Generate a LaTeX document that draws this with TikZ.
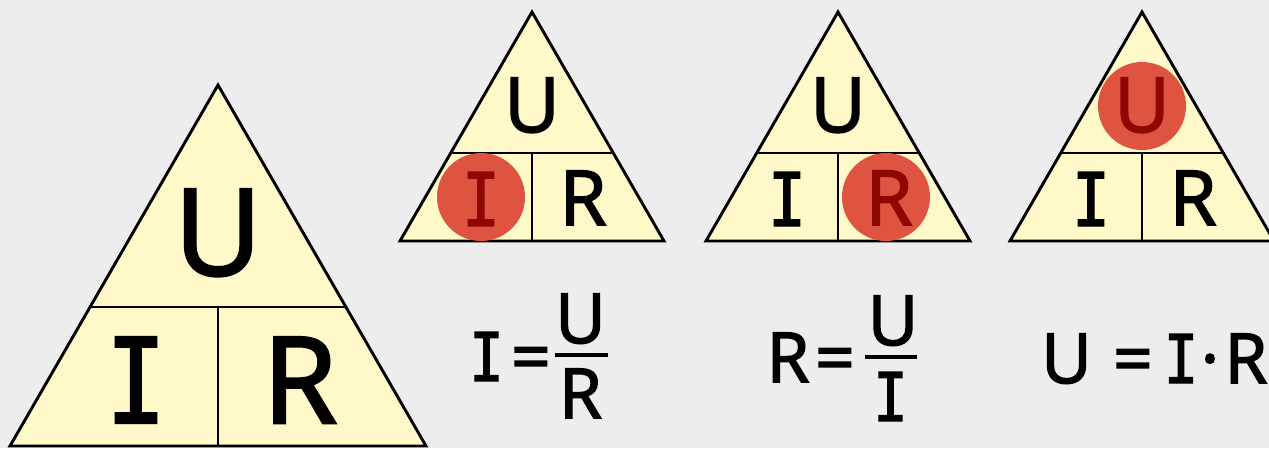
\documentclass[tikz,border=0pt]{standalone}
\usepackage{fontspec}
\newfontfamily\osans[FakeBold=2.4]{Open Sans}
\newfontfamily\dmono[FakeBold=2]{DejaVu Sans Mono}
\definecolor{bgc}{HTML}{EDEDED}
\definecolor{triy}{HTML}{FFF8C8}
\definecolor{redc}{HTML}{DF5440}
\definecolor{dred}{HTML}{8E0800}
\tikzset{
  tri/.style={draw=black, line width=2.9pt, fill=triy, line join=miter},
  sep/.style={draw=black, line width=2.9pt},
  bigs/.style={font=\osans\fontsize{120}{120}\selectfont, anchor=base, inner sep=0pt},
  bigm/.style={font=\dmono\fontsize{118}{118}\selectfont, anchor=base, inner sep=0pt, xscale=0.85},
  sms/.style={font=\osans\fontsize{76}{76}\selectfont, anchor=base, inner sep=0pt},
  smm/.style={font=\dmono\fontsize{74}{74}\selectfont, anchor=base, inner sep=0pt, xscale=0.85},
  fs/.style={font=\osans\fontsize{69}{69}\selectfont, anchor=base, inner sep=0pt},
  fm/.style={font=\dmono\fontsize{67}{67}\selectfont, anchor=base, inner sep=0pt, xscale=0.85},
  hl/.style={circle, fill=redc, minimum size=88pt, inner sep=0pt},
  fbar/.style={draw=black, line width=4pt},
}
\begin{document}
\begin{tikzpicture}[x=1pt,y=-1pt]
\useasboundingbox (0,0) rectangle (1269,448);
\fill[bgc] (0,0) rectangle (1269,448);
% big triangle
\draw[tri] (218,85) -- (426,446) -- (10,446) -- cycle;
\draw[sep] (90,307) -- (346,307);
\draw[sep] (218,307) -- (218,446);
\node[bigs] (bU) at (218,275) {U};
\node[bigm] (bI) at (136,423) {I};
\node[bigs] (bR) at (300,423) {R};
% small triangles
\foreach \ax/\nm in {532/a,838/b,1142/c}{
  \draw[tri] (\ax,12) -- (\ax+132,241) -- (\ax-132,241) -- cycle;
  \draw[sep] (\ax-81.3,153) -- (\ax+81.3,153);
  \draw[sep] (\ax,153) -- (\ax,241);
}
% triangle 1
\node[sms] (aU) at (532,132) {U};
\node[hl] (aC) at (481,197) {};
\node[smm, text=dred] (aI) at (481,226) {I};
\node[sms] (aR) at (583,225) {R};
% triangle 2
\node[sms] (bbU) at (838,132) {U};
\node[smm] (bbI) at (787,226) {I};
\node[hl] (bC) at (886,197) {};
\node[sms, text=dred] (bbR) at (889,225) {R};
% triangle 3
\node[hl] (cC) at (1142,106) {};
\node[sms, text=dred] (cU) at (1142,132) {U};
\node[smm] (cI) at (1091,226) {I};
\node[sms] (cR) at (1193,225) {R};
% formula 1
\node[fm] (f1I) at (486.5,381) {I};
\node[fs] (f1eq) at (531,381) {=};
\draw[fbar] (555,355) -- (608,355);
\node[fs] (f1U) at (580.5,343) {U};
\node[fs] (f1R) at (580.5,418) {R};
% formula 2
\node[fs] (f2R) at (788,382) {R};
\node[fs] (f2eq) at (835,382) {=};
\draw[fbar] (865,357) -- (917,357);
\node[fs] (f2U) at (893,345) {U};
\node[fm] (f2I) at (890.5,421) {I};
% formula 3
\node[fs] (f3U) at (1066.5,383) {U};
\node[fs] (f3eq) at (1133,383) {=};
\node[fm] (f3I) at (1181,383) {I};
\node[fs] (f3d) at (1210,383) {·};
\node[fs] (f3R) at (1246,383) {R};
\end{tikzpicture}
\end{document}
